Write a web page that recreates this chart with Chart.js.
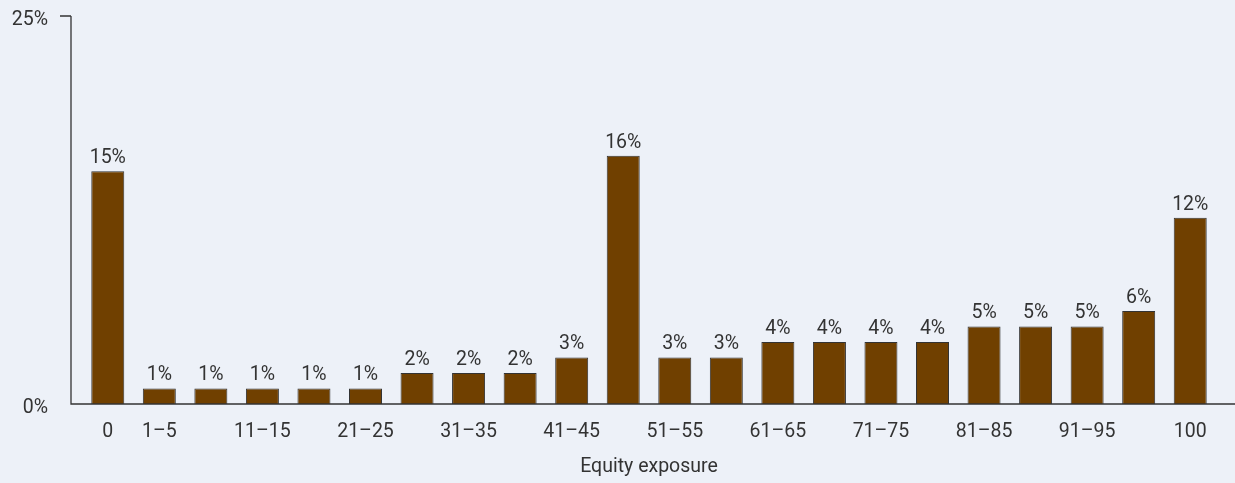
<!DOCTYPE html>
<html>
<head>
<meta charset="utf-8">
<script src="https://cdn.jsdelivr.net/npm/chart.js@4"></script>
<style>
html,body{margin:0;padding:0;background:#edf1f8;}
#wrap{width:1235px;height:483px;position:relative;}
</style>
</head>
<body>
<div id="wrap"><canvas id="chart"></canvas></div>
<script>
// exposure buckets (all of them), and the ones that get a visible tick label
const categories=["0","1–5","6–10","11–15","16–20","21–25","26–30","31–35","36–40","41–45","46–50","51–55","56–60","61–65","66–70","71–75","76–80","81–85","86–90","91–95","96–99","100"];
const tickLabels=["0","1–5","","11–15","","21–25","","31–35","","41–45","","51–55","","61–65","","71–75","","81–85","","91–95","","100"];
const shares=[15,1,1,1,1,1,2,2,2,3,16,3,3,4,4,4,4,5,5,5,6,12];
const yTicks=[0,25];

const txt="#333";
const fontFam="Roboto, 'Liberation Sans', sans-serif";

// axis lines sit a bit outside the bar area, so draw them by hand
const axisLines={
id:"axisLines",
afterDraw(chart){
const c=chart.ctx;
const y0=chart.scales.y.getPixelForValue(0), y1=chart.scales.y.getPixelForValue(25);
c.save();
c.strokeStyle="#333";c.lineWidth=1.3;
c.beginPath();
c.moveTo(71,y1);c.lineTo(71,y0);c.lineTo(chart.width,y0);
c.moveTo(60,y1);c.lineTo(71,y1);
c.stroke();
c.restore();
}
};

const barLabels={
id:"barLabels",
afterDatasetsDraw(chart){
const c=chart.ctx;
const meta=chart.getDatasetMeta(0);
c.save();
c.fillStyle=txt;c.font="19.5px "+fontFam;
c.textAlign="center";c.textBaseline="alphabetic";
meta.data.forEach((bar,i)=>{
c.fillText(shares[i]+"%",bar.x,bar.y-8);
});
c.restore();
}
};

new Chart(document.getElementById("chart"),{
type:"bar",
data:{
labels:categories,
datasets:[{data:shares,backgroundColor:"#704000",borderColor:"#333",borderWidth:1,barPercentage:0.64,categoryPercentage:1}]
},
options:{
responsive:true,maintainAspectRatio:false,animation:false,
layout:{padding:{top:0,right:19,left:0,bottom:0}},
plugins:{legend:{display:false},tooltip:{enabled:false}},
scales:{
x:{
afterFit:s=>{s.height=79;},
grid:{display:false,drawTicks:false},border:{display:false},
ticks:{autoSkip:false,maxRotation:0,color:txt,font:{family:fontFam,size:19.5},padding:16,
callback:(v,i)=>tickLabels[i]},
title:{display:true,text:"Equity exposure",color:txt,font:{family:fontFam,size:19.5},padding:{top:6,bottom:4}}
},
y:{
min:0,max:25,
afterBuildTicks:s=>{s.ticks=yTicks.map(v=>({value:v}));},
// tick padding also pushes the plot down, so pin the top gap here
afterFit:s=>{s.width=82;s.paddingTop=16;s.paddingBottom=0;},
grid:{display:false,drawTicks:false},border:{display:false},
ticks:{color:txt,font:{family:fontFam,size:19.5},padding:34,labelOffset:4,callback:v=>v+"%"}
}
}
},
plugins:[axisLines,barLabels]
});
</script>
</body>
</html>
